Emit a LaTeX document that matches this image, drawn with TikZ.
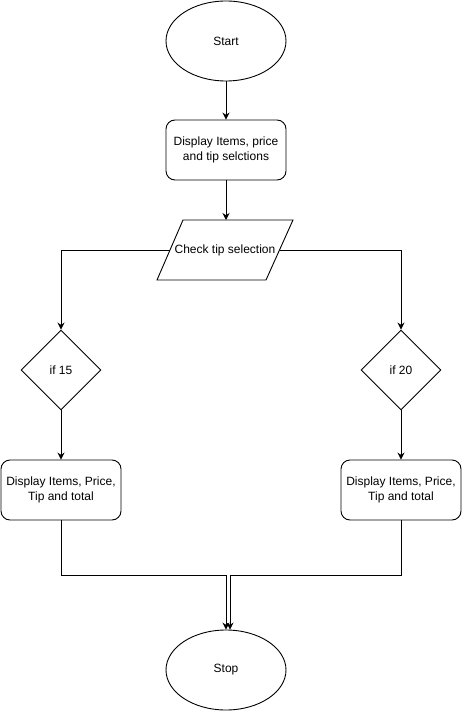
\documentclass[tikz,border=0pt]{standalone}
\usepackage{fontspec}
\setmainfont{Liberation Sans}
\usetikzlibrary{shapes.geometric,arrows.meta,calc}
\begin{document}
\begin{tikzpicture}[x=1pt,y=-1pt,
  every node/.style={font=\fontsize{12}{14.5}\selectfont, align=center, line width=0.9pt},
  term/.style={draw, ellipse, minimum width=120pt, minimum height=80pt, inner sep=0pt},
  procbox/.style={draw, rounded corners=9pt, minimum width=120pt, minimum height=60pt, inner sep=0pt},
  decbox/.style={draw, diamond, minimum width=80pt, minimum height=80pt, inner sep=0pt},
  conn/.style={line width=0.9pt, -{Stealth[length=7pt,width=7pt]}},
  plain/.style={line width=0.9pt}]
\useasboundingbox (0,0) rectangle (461,711);
\node[term] (start) at (226,41) {Start};
\node[procbox] (disp) at (226,150) {Display Items, price\\and tip selctions};
% parallelogram
\coordinate (pTL) at (183,220);
\coordinate (pTR) at (293,220);
\coordinate (pBR) at (266,280);
\coordinate (pBL) at (157,280);
\draw[plain] (pTL) -- (pTR) -- (pBR) -- (pBL) -- cycle;
\node (chk) at (225,250) {Check tip selection};
\coordinate (chkT) at (226,220);
\coordinate (chkL) at ($(pTL)!0.5!(pBL)$);
\coordinate (chkR) at ($(pTR)!0.5!(pBR)$);
\node[decbox] (d15) at (61,370) {if 15};
\node[decbox] (d20) at (401,370) {if 20};
\node[procbox] (b15) at (61,490) {Display Items, Price,\\Tip and total};
\node[procbox] (b20) at (401,490) {Display Items, Price,\\Tip and total};
\node[term] (stop) at (226,670) {Stop};
\coordinate (s2) at ([xshift=4pt]stop.north);
\draw[conn] (start) -- (disp);
\draw[conn] (disp) -- (chkT);
\draw[conn] (chkL) -| (d15.north);
\draw[conn] (chkR) -| (d20.north);
\draw[conn] (d15) -- (b15);
\draw[conn] (d20) -- (b20);
\draw[conn] (b15.south) -- ++(0,55) -| (stop.north);
\draw[conn] (b20.south) -- ++(0,55) -| (s2);
\end{tikzpicture}
\end{document}
